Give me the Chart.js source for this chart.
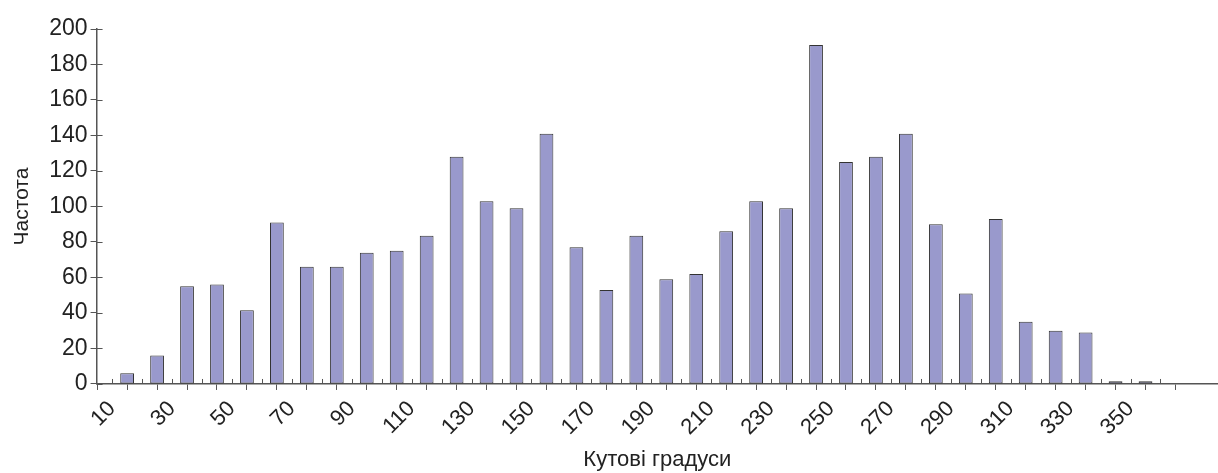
<!DOCTYPE html>
<html>
<head>
<meta charset="utf-8">
<script src="https://cdn.jsdelivr.net/npm/chart.js@4"></script>
<style>
    body { margin: 0; background: #fff; }
    #wrap { width: 1218px; height: 473px; }
</style>
</head>
<body>
<div id="wrap"><canvas id="histChart" width="1218" height="473"></canvas></div>
<script>
// bin start (degrees) and counts
const binStarts = [10, 20, 30, 40, 50, 60, 70, 80, 90, 100, 110, 120, 130, 140, 150, 160, 170, 180,
    190, 200, 210, 220, 230, 240, 250, 260, 270, 280, 290, 300, 310, 320, 330, 340, 350];
const counts = [6, 16, 55, 56, 41.5, 91, 66, 66, 74, 75, 83.5, 128, 103, 99, 141, 77, 53, 83.5,
    59, 62, 86, 103, 99, 191, 125, 128, 141, 90, 51, 93, 35, 30, 29, 1.5, 1.5];
const xLabels = [10, 30, 50, 70, 90, 110, 130, 150, 170, 190, 210, 230, 250, 270, 290, 310, 330, 350];
const yTicks = [0, 20, 40, 60, 80, 100, 120, 140, 160, 180, 200];

const axisColor = '#555';
const textColor = '#222';
const fontName = "'Liberation Sans', Arial, sans-serif";

// tick marks crossing the axis line (inner half)
const innerTicks = {
    id: 'innerTicks',
    afterDraw(chart) {
        const ctx = chart.ctx;
        const xs = chart.scales.x;
        const ys = chart.scales.y;
        ctx.save();
        ctx.strokeStyle = axisColor;
        ctx.lineWidth = 1;
        ctx.beginPath();
        xs.ticks.forEach(t => {
            const px = Math.round(xs.getPixelForValue(t.value)) + 0.5;
            ctx.moveTo(px, ys.bottom);
            ctx.lineTo(px, ys.bottom - 5);
        });
        ys.ticks.forEach(t => {
            const py = Math.round(ys.getPixelForValue(t.value)) + 0.5;
            ctx.moveTo(xs.left, py);
            ctx.lineTo(xs.left + 6, py);
        });
        ctx.stroke();
        ctx.restore();
    }
};

const ctx = document.getElementById('histChart').getContext('2d');
new Chart(ctx, {
    type: 'bar',
    data: {
        datasets: [{
            label: 'Частота',
            data: binStarts.map((b, i) => ({ x: b + 5, y: counts[i] })),
            backgroundColor: '#9999cc',
            borderColor: '#333',
            borderWidth: 1,
            borderSkipped: false,
            categoryPercentage: 1,
            barPercentage: 0.46,
        }],
    },
    options: {
        responsive: false,
        animation: false,
        layout: { padding: { left: 10, right: 0, top: 29, bottom: 0 } },
        plugins: {
            legend: { display: false },
            tooltip: { enabled: false },
        },
        scales: {
            x: {
                type: 'linear',
                min: 10,
                max: 374,
                afterBuildTicks: (scale) => {
                    scale.ticks = scale.ticks.filter(t => t.value % 10 === 0);
                },
                ticks: {
                    stepSize: 10,
                    autoSkip: false,
                    minRotation: 45,
                    maxRotation: 45,
                    color: textColor,
                    font: { family: fontName, size: 22 },
                    padding: 6,
                    callback: (v) => xLabels.includes(v) ? String(v) : '',
                },
                grid: {
                    drawOnChartArea: false,
                    drawTicks: true,
                    tickLength: 6,
                    color: axisColor,
                },
                border: { display: true, color: axisColor, width: 1.5 },
                title: {
                    display: true,
                    text: 'Кутові градуси',
                    color: textColor,
                    font: { family: fontName, size: 22 },
                    padding: { top: 0, bottom: 0 },
                },
            },
            y: {
                min: 0,
                max: 200,
                afterBuildTicks: (scale) => {
                    scale.ticks = yTicks.map(v => ({ value: v }));
                },
                ticks: {
                    color: textColor,
                    font: { family: fontName, size: 23 },
                    padding: 3,
                },
                grid: {
                    drawOnChartArea: false,
                    drawTicks: true,
                    tickLength: 6,
                    color: axisColor,
                },
                border: { display: true, color: axisColor, width: 1.5 },
                title: {
                    display: true,
                    text: 'Частота',
                    color: textColor,
                    font: { family: fontName, size: 21 },
                    padding: { top: 0, bottom: 11 },
                },
            },
        },
    },
    plugins: [innerTicks],
});
</script>
</body>
</html>
